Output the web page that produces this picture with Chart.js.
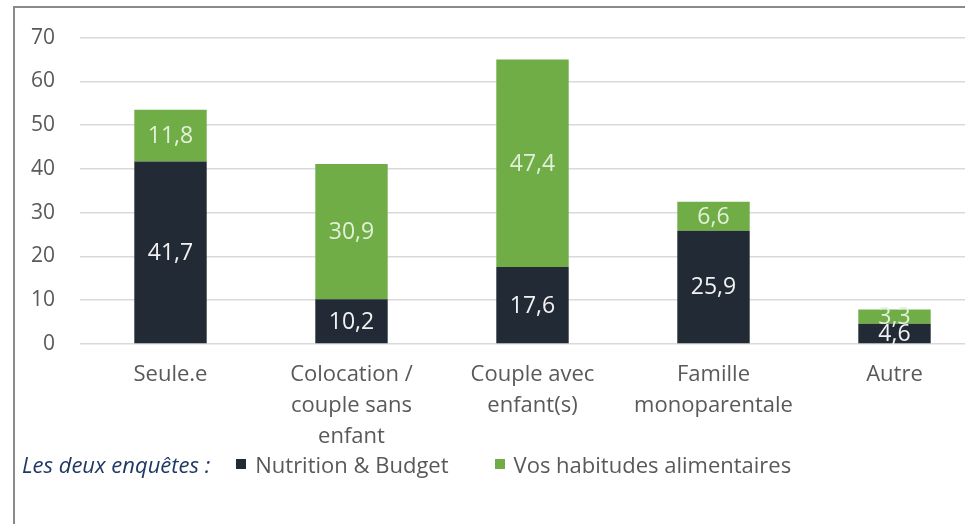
<!DOCTYPE html>
<html lang="fr">
<head>
<meta charset="utf-8">
<script src="https://cdn.jsdelivr.net/npm/chart.js@4/dist/chart.umd.min.js"></script>
<style>
  html, body { margin: 0; padding: 0; background: #fff; }
  body { width: 965px; height: 524px; overflow: hidden; position: relative; font-family: "Open Sans", sans-serif; }
  #frame {
    position: absolute; left: 13px; top: 6px; width: 990px; height: 540px;
    border-left: 2px solid #8a8a8a; border-top: 2px solid #8a8a8a;
  }
  #chart-wrap { position: absolute; left: 0; top: 0; width: 985px; height: 524px; }
  #legend {
    position: absolute; left: 22px; top: 449px; height: 30px;
    display: flex; align-items: center; font-size: 22px; color: #595959; white-space: nowrap;
  }
  #legend .title { font-style: italic; color: #1f3864; margin-right: 26px; }
  #legend .sw { display: inline-block; width: 10px; height: 10px; margin-right: 9px; }
  #legend .item { display: flex; align-items: center; margin-right: 46px; }
</style>
</head>
<body>
<div id="frame"></div>
<div id="chart-wrap"><canvas id="myChart" width="985" height="524"></canvas></div>
<div id="legend">
  <span class="title">Les deux enquêtes :</span>
  <span class="item"><span class="sw" style="background:#222a35"></span>Nutrition &amp; Budget</span>
  <span class="item"><span class="sw" style="background:#70ad47"></span>Vos habitudes alimentaires</span>
</div>
<script>
// données
const categories = [
    ['Seule.e'],
    ['Colocation /', 'couple sans', 'enfant'],
    ['Couple avec', 'enfant(s)'],
    ['Famille', 'monoparentale'],
    ['Autre']
];
const seriesNames = ['Nutrition & Budget', 'Vos habitudes alimentaires'];
const nutritionBudget = [41.7, 10.2, 17.6, 25.9, 4.6];
const habitudesAlimentaires = [11.8, 30.9, 47.4, 6.6, 3.3];
const yTicks = [0, 10, 20, 30, 40, 50, 60, 70];

const COLOR_DARK = '#222a35';
const COLOR_GREEN = '#70ad47';

// étiquettes de valeurs au centre de chaque segment
const segmentLabels = {
    id: 'segmentLabels',
    afterDatasetsDraw(chart) {
        const ctx = chart.ctx;
        ctx.save();
        ctx.font = '23px "Open Sans", sans-serif';
        ctx.textAlign = 'center';
        ctx.textBaseline = 'middle';
        chart.data.datasets.forEach((ds, i) => {
            const meta = chart.getDatasetMeta(i);
            ctx.fillStyle = i === 0 ? '#f2f2f2' : '#e2f0d9';
            meta.data.forEach((bar, j) => {
                const txt = ds.data[j].toFixed(1).replace('.', ',');
                ctx.fillText(txt, bar.x, (bar.y + bar.base) / 2 + 1);
            });
        });
        ctx.restore();
    }
};

const ctx = document.getElementById('myChart').getContext('2d');
const myChart = new Chart(ctx, {
    type: 'bar',
    data: {
        labels: categories,
        datasets: [
            { label: seriesNames[0], data: nutritionBudget, backgroundColor: COLOR_DARK },
            { label: seriesNames[1], data: habitudesAlimentaires, backgroundColor: COLOR_GREEN }
        ]
    },
    options: {
        responsive: false,
        animation: false,
        layout: { padding: { top: 35.5, right: 0, bottom: 0, left: 0 } },
        datasets: { bar: { categoryPercentage: 1, barPercentage: 0.4 } },
        plugins: { legend: { display: false }, tooltip: { enabled: false } },
        scales: {
            x: {
                stacked: true,
                grid: { display: false, drawTicks: false },
                border: { display: false },
                ticks: {
                    color: '#595959',
                    padding: 15.5,
                    maxRotation: 0,
                    autoSkip: false,
                    font: { family: '"Open Sans", sans-serif', size: 22, lineHeight: '31px' }
                },
                afterFit(scale) { scale.height = 524 - 344; }
            },
            y: {
                stacked: true,
                min: 0,
                max: yTicks[yTicks.length - 1],
                afterBuildTicks(scale) { scale.ticks = yTicks.map(v => ({ value: v })); },
                grid: { color: '#d9d9d9', lineWidth: 1.5, drawTicks: false },
                border: { display: false },
                ticks: {
                    color: '#595959',
                    padding: 25,
                    font: { family: '"Open Sans", sans-serif', size: 21 }
                },
                afterFit(scale) { scale.width = 80; }
            }
        }
    },
    plugins: [segmentLabels]
});
</script>
</body>
</html>
